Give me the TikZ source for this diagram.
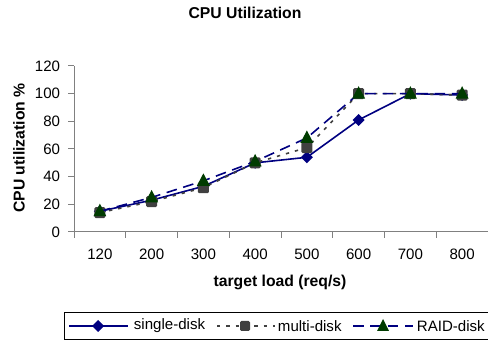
\documentclass[tikz,border=0pt]{standalone}
\usepackage{fontspec}
\setmainfont{Liberation Sans}
\definecolor{navyline}{RGB}{0,0,128}
\definecolor{darkbox}{RGB}{64,64,64}
\definecolor{darkgreen}{RGB}{0,60,0}
\definecolor{axisgray}{RGB}{128,128,128}
\tikzset{every picture/.style={line width=0.75pt}}
\tikzset{
  singleline/.style={navyline, line width=1.2pt},
  multiline/.style={darkbox, line width=1.2pt, dash pattern=on 2.5pt off 4.5pt},
  raidline/.style={navyline, line width=1.2pt, dash pattern=on 8pt off 5pt},
  ticktext/.style={font=\fontsize{11.3}{13}\selectfont},
  boldtext/.style={font=\fontsize{11.8}{14}\selectfont\bfseries}
}

\begin{document}
\begin{tikzpicture}[x=0.75pt,y=0.75pt,yscale=-1,xscale=1]
	\useasboundingbox (0,0) rectangle (488,341);

	% Title
	\node[boldtext] (title) at (245,13) {CPU Utilization};

	%Axes
	\draw[axisgray] (74,66) -- (74,232) -- (490,232);
	\foreach \v in {0,20,...,120} {
		\draw[axisgray] (68,{232-1.3833*\v}) -- (74,{232-1.3833*\v});
		\node[ticktext, anchor=east] (ylab\v) at (65,{232-1.3833*\v}) {\v};
	}
	\foreach \k in {0,...,8}
		\draw[axisgray] ({74+51.75*\k},232) -- ({74+51.75*\k},238);
	\foreach \lab [count=\i from 0] in {120,200,300,400,500,600,700,800}
		\node[ticktext] (xlab\i) at ({74+51.75*(\i+0.5)},254) {\lab};

	% Axis titles
	\node[boldtext] (xtitle) at (280,282) {target load (req/s)};
	\node[boldtext, rotate=90] (ytitle) at (19,148) {CPU utilization \%};

	% Data points
	\foreach \s/\m/\r [count=\i] in {15/14/15,23/22/25,33/32/37,50/50/51,54/61/68,81/100/100,100/100/100,99/99/100} {
		\coordinate (s\i) at ({74+51.75*(\i-0.5)},{232-1.3833*\s});
		\coordinate (m\i) at ({74+51.75*(\i-0.5)},{232-1.3833*\m});
		\coordinate (r\i) at ({74+51.75*(\i-0.5)},{232-1.3833*\r});
	}

	% single-disk
	\draw[singleline] (s1) \foreach \i in {2,...,8} {-- (s\i)};
	\foreach \i in {1,...,8}
		\fill[navyline] (s\i) +(0,-6) -- +(6,0) -- +(0,6) -- +(-6,0) -- cycle;

	% multi-disk
	\draw[multiline] (m1) \foreach \i in {2,...,8} {-- (m\i)};
	\foreach \i in {1,...,8}
		\fill[darkbox, rounded corners=1pt] (m\i) +(-5.5,-5.5) rectangle +(5.5,5.5);

	% RAID-disk
	\draw[raidline] (r1) \foreach \i in {2,...,8} {-- (r\i)};
	\foreach \i in {1,...,8}
		\fill[darkgreen] (r\i) +(0,-7.5) -- +(6.5,5) -- +(-6.5,5) -- cycle;

	% Legend
	\draw[black] (64,313) rectangle (495,339);
	\coordinate (l1a) at (69,326);  \coordinate (l1b) at (128,326);
	\coordinate (l2a) at (217,326); \coordinate (l2b) at (275,326);
	\coordinate (l3a) at (353,326); \coordinate (l3b) at (413,326);
	\draw[singleline] (l1a) -- (l1b);
	\fill[navyline] (98,326) +(0,-6) -- +(6,0) -- +(0,6) -- +(-6,0) -- cycle;
	\node[ticktext, anchor=west] (leg1) at (129,326) {single-disk};
	\draw[multiline] (l2a) -- (l2b);
	\fill[darkbox, rounded corners=1pt] (245,326) +(-5,-5) rectangle +(5,5);
	\node[ticktext, anchor=west] (leg2) at (273,326) {multi-disk};
	\draw[raidline] (l3a) -- (l3b);
	\fill[darkgreen] (383,326) +(0,-7) -- +(6,5) -- +(-6,5) -- cycle;
	\node[ticktext, anchor=west] (leg3) at (412,326) {RAID-disk};

\end{tikzpicture}
\end{document}
